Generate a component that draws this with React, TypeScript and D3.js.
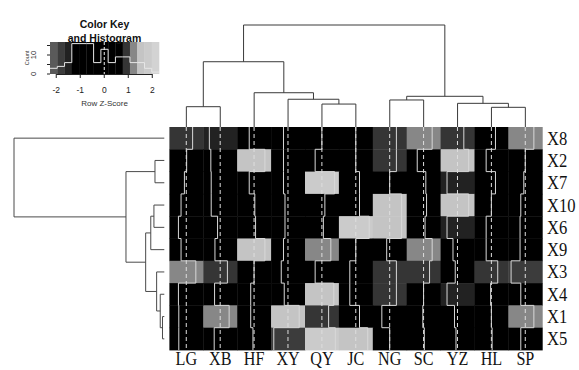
import React from 'react';
import * as d3 from 'd3';

// ---------- data ----------
const colLabels = ['LG', 'XB', 'HF', 'XY', 'QY', 'JC', 'NG', 'SC', 'YZ', 'HL', 'SP'];
const rowLabels = ['X8', 'X2', 'X7', 'X10', 'X6', 'X9', 'X3', 'X4', 'X1', 'X5'];

// row z-scores, one array per row, columns in colLabels order
const rowX8 = [0.85, -1.45, -0.65, -0.6, 0.0, 0.0, 0.9, 1.15, 0.85, 0.55, 1.15];
const rowX2 = [0.05, -1.25, 1.45, -0.6, -0.9, 0.0, 0.9, -0.85, 1.5, -0.7, 0.0];
const rowX7 = [-0.25, -1.2, -0.65, -0.6, 1.7, 0.5, 0.0, 0.3, -1.4, 0.55, -0.2];
const rowX10 = [-0.7, -1.2, 0.1, -0.4, 0.4, 0.5, 1.6, 0.4, 1.5, 0.0, -0.6];
const rowX6 = [-1.05, -0.35, 0.2, -0.4, 0.2, 1.8, 1.6, 0.2, -1.4, -0.7, -0.7];
const rowX9 = [-0.7, -0.7, 1.45, -0.6, 1.2, 0.0, -0.4, 1.15, -0.6, -0.7, -0.7];
const rowX3 = [1.28, 0.97, 0.0, -0.9, -0.9, -0.8, 0.9, 0.8, -0.3, 0.85, -1.9];
const rowX4 = [-1.05, -0.75, -0.45, -0.5, 1.6, -0.8, 0.9, 0.0, -1.4, -0.1, -0.6];
const rowX1 = [-1.0, 1.2, -0.45, 1.5, 0.9, 0.5, -1.05, -0.1, -0.4, 0.0, 1.15];
const rowX5 = [-1.0, -0.8, -0.15, -1.9, 1.8, 1.6, 0.0, 0.1, -0.2, 0.1, -0.6];

// colour key
const keyBreaks = [-2.26, -1.957, -1.654, -1.352, -1.049, -0.746, -0.444, -0.141, 0.162, 0.465, 0.768, 1.07, 1.373, 1.676, 1.979, 2.28];
const keyColors = ['#5a5a5a', '#3c3c3c', '#222222', '#000000', '#000000', '#000000', '#000000', '#000000', '#000000', '#000000', '#353535', '#878787', '#c4c4c4', '#cbcbcb', '#d3d3d3'];
const histCounts = [3, 4, 6, 16, 16, 16, 6, 13, 6, 9, 9, 6, 6, 3, 1];
const keyTicks = [-2, -1, 0, 1, 2];
const countTicks = [0, 5, 10, 15];
const countTickLabels = [0, 10];

// dendrograms (merge heights)
type TNode = { name?: string; h?: number; children?: TNode[] };
const colTree: TNode = {
  h: 10, children: [
    { h: 6.4, children: [
      { h: 1.99, children: [{ name: 'LG' }, { name: 'XB' }] },
      { h: 3.36, children: [{ name: 'HF' }, { h: 2.72, children: [{ name: 'XY' }, { h: 2.25, children: [{ name: 'QY' }, { name: 'JC' }] }] }] },
    ] },
    { h: 3.01, children: [
      { h: 2.65, children: [{ name: 'NG' }, { name: 'SC' }] },
      { h: 2.32, children: [{ name: 'YZ' }, { h: 1.93, children: [{ name: 'HL' }, { name: 'SP' }] }] },
    ] },
  ],
};
const rowTree: TNode = {
  h: 10, children: [
    { name: 'X8' },
    { h: 2.55, children: [
      { h: 0.62, children: [{ name: 'X2' }, { name: 'X7' }] },
      { h: 1.24, children: [
        { h: 0.9, children: [{ h: 0.69, children: [{ name: 'X10' }, { name: 'X6' }] }, { name: 'X9' }] },
        { h: 0.51, children: [{ name: 'X3' }, { h: 0.27, children: [{ name: 'X4' }, { h: 0.12, children: [{ name: 'X1' }, { name: 'X5' }] }] }] },
      ] },
    ] },
  ],
};

type Seg = [number, number, number, number];
function layout(node: TNode, leafPos: (n: string) => number, segs: Seg[]): [number, number] {
  if (!node.children) return [leafPos(node.name as string), 0];
  const kids = node.children.map((c) => layout(c, leafPos, segs));
  const h = node.h as number;
  kids.forEach(([p, hc]) => segs.push([p, hc, p, h]));
  segs.push([kids[0][0], h, kids[kids.length - 1][0], h]);
  return [d3.mean(kids, (k) => k[0]) as number, h];
}

export default function App() {
  const W = 579, H = 370;
  const x = d3.scaleBand<string>().domain(colLabels).range([169.4, 542.3]);
  const y = d3.scaleBand<string>().domain(rowLabels).range([127, 350]);
  const bw = x.bandwidth(), bh = y.bandwidth();
  const zValues = [rowX8, rowX2, rowX7, rowX10, rowX6, rowX9, rowX3, rowX4, rowX1, rowX5];
  const color = d3.scaleThreshold<number, string>().domain(keyBreaks.slice(1, -1)).range(keyColors);
  const kMin = keyBreaks[0], kMax = keyBreaks[keyBreaks.length - 1];
  const traceScale = d3.scaleLinear().domain([kMin, kMax]).range([0, bw]);

  const colH = d3.scaleLinear().domain([0, 10]).range([127, 25]);
  const rowH = d3.scaleLinear().domain([0, 10]).range([164.3, 14]);
  const colSegs: Seg[] = [];
  layout(colTree, (n) => (x(n) as number) + bw / 2, colSegs);
  const rowSegs: Seg[] = [];
  layout(rowTree, (n) => (y(n) as number) + bh / 2, rowSegs);

  // key
  const kx = d3.scaleLinear().domain([kMin, kMax]).range([50, 159]);
  const keyTop = 42, keyBottom = 74;
  const maxC = d3.max(histCounts) as number;
  const ky = d3.scaleLinear().domain([0, maxC / 0.95]).range([keyBottom, keyTop]);
  const histPts: [number, number][] = keyBreaks.map((b, i) => [kx(b), ky(histCounts[Math.min(i, histCounts.length - 1)])]);
  const histPath = d3.line().curve(d3.curveStepAfter)(histPts) as string;

  const traceLine = d3.line();
  const serif = '"Liberation Serif", "Times New Roman", serif';
  const sans = '"Liberation Sans", Arial, sans-serif';

  return (
    <svg width={W} height={H} style={{ position: 'absolute', left: 0, top: 0, background: '#fff' }}>
      <rect width={W} height={H} fill="#ffffff" />
      {/* heatmap cells */}
      {zValues.map((row, ri) =>
        row.map((v, ci) => (
          <rect key={`c${ri}-${ci}`} x={x(colLabels[ci])} y={y(rowLabels[ri])} width={bw + 0.4} height={bh + 0.4} fill={color(v)} />
        ))
      )}
      {/* traces */}
      {colLabels.map((c, ci) => {
        const x0 = x(c) as number;
        const pts: [number, number][] = [];
        zValues.forEach((row, ri) => {
          const yy = y(rowLabels[ri]) as number;
          const xx = x0 + traceScale(row[ci]);
          pts.push([xx, yy], [xx, yy + bh]);
        });
        const vx = x0 + traceScale(0);
        return (
          <g key={`t${c}`}>
            <line x1={vx} x2={vx} y1={127} y2={350} stroke="#dedede" strokeWidth={1} strokeDasharray="4,3" />
            <path d={traceLine(pts) as string} fill="none" stroke="#d8d8d8" strokeWidth={1} />
          </g>
        );
      })}
      {/* column dendrogram */}
      {colSegs.map((s, i) => (
        <line key={`cd${i}`} x1={s[0]} y1={colH(s[1])} x2={s[2]} y2={colH(s[3])} stroke="#3a3a3a" strokeWidth={1} />
      ))}
      {/* row dendrogram */}
      {rowSegs.map((s, i) => (
        <line key={`rd${i}`} x1={rowH(s[1])} y1={s[0]} x2={rowH(s[3])} y2={s[2]} stroke="#4a4a4a" strokeWidth={1} />
      ))}
      {/* labels */}
      {colLabels.map((c) => (
        <text key={`cl${c}`} transform={`translate(${(x(c) as number) + bw / 2},365) scale(0.85,1)`} textAnchor="middle" fontFamily={serif} fontSize={19} fill="#111">
          {c}
        </text>
      ))}
      {rowLabels.map((r) => (
        <text key={`rl${r}`} transform={`translate(547,${(y(r) as number) + bh / 2 + 6.5}) scale(0.85,1)`} fontFamily={serif} fontSize={19.5} fill="#111">
          {r}
        </text>
      ))}
      {/* colour key */}
      {keyColors.map((col, i) => (
        <rect key={`k${i}`} x={kx(keyBreaks[i])} y={keyTop} width={kx(keyBreaks[i + 1]) - kx(keyBreaks[i]) + 0.3} height={keyBottom - keyTop} fill={col} />
      ))}
      <path d={histPath} fill="none" stroke="#e6e6e6" strokeWidth={1} />
      <line x1={kx(0)} x2={kx(0)} y1={keyTop} y2={keyBottom} stroke="#eeeeee" strokeDasharray="3,2" />
      <line x1={kx(keyTicks[0])} x2={kx(keyTicks[keyTicks.length - 1])} y1={keyBottom + 0.5} y2={keyBottom + 0.5} stroke="#222" />
      {keyTicks.map((t) => (
        <g key={`kt${t}`}>
          <line x1={kx(t)} x2={kx(t)} y1={keyBottom} y2={keyBottom + 4} stroke="#222" />
          <text x={kx(t)} y={93} textAnchor="middle" fontFamily={sans} fontSize={8.5} fill="#222">{t}</text>
        </g>
      ))}
      <text x={104.5} y={106} textAnchor="middle" fontFamily={sans} fontSize={8} fill="#333">Row Z-Score</text>
      {countTicks.map((t) => (
        <line key={`ct${t}`} x1={47} x2={50} y1={ky(t)} y2={ky(t)} stroke="#222" />
      ))}
      {countTickLabels.map((t) => (
        <text key={`cl${t}`} transform={`translate(36,${ky(t)}) rotate(-90)`} textAnchor="middle" fontFamily={sans} fontSize={7.5} fill="#222">{t}</text>
      ))}
      <text transform={`translate(29,${(keyTop + keyBottom) / 2}) rotate(-90)`} textAnchor="middle" fontFamily={sans} fontSize={5.5} fill="#333">Count</text>
      <text x={104.5} y={28} textAnchor="middle" fontFamily={sans} fontWeight="bold" fontSize={10.5} fill="#111">Color Key</text>
      <text x={104.5} y={42} textAnchor="middle" fontFamily={sans} fontWeight="bold" fontSize={10.5} fill="#111">and Histogram</text>
    </svg>
  );
}
